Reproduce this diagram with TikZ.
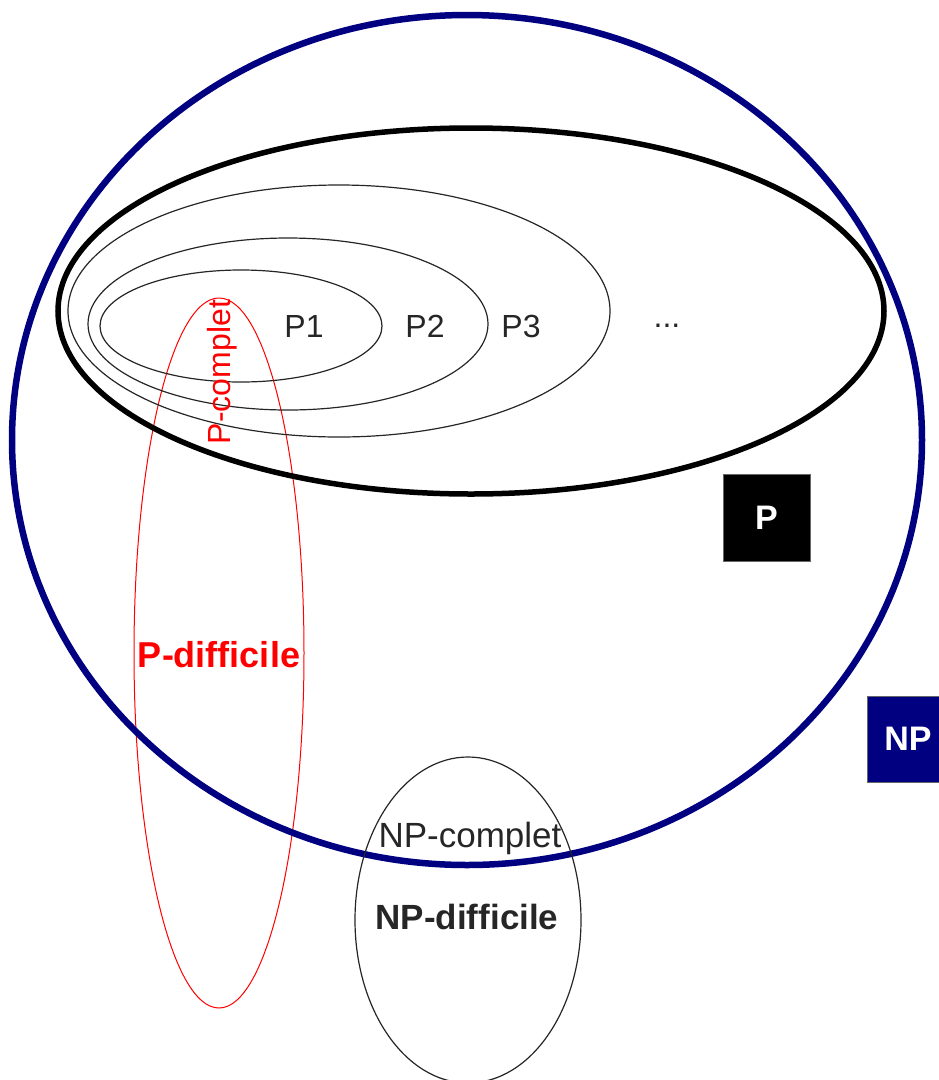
\documentclass[tikz,border=0pt]{standalone}
\usepackage{fontspec}
\setmainfont{Liberation Sans}
\usetikzlibrary{shapes.geometric}

\definecolor{npblue}{RGB}{0,0,128}

\begin{document}
\begin{tikzpicture}[
    x=1pt, y=-1pt,
    % Set styles
    blob/.style={ellipse, inner sep=0pt, outer sep=0pt},
    npset/.style={blob, draw=npblue, line width=6.5pt},
    pset/.style={blob, draw=black, line width=5.5pt},
    level/.style={blob, draw=black!85, line width=1.2pt},
    hardset/.style={blob, draw=red, line width=1pt},
    lbl/.style={font=\fontsize{32}{34}\selectfont, text=black!85, inner sep=0pt},
    bold/.style={lbl, font=\fontsize{35}{37}\selectfont\bfseries},
    tag/.style={rectangle, draw=black!60, line width=0.8pt, text=white,
        inner sep=0pt, font=\fontsize{34}{36}\selectfont\bfseries}
]
\useasboundingbox (0,0) rectangle (939,1080);

% ============================================================
% Sets
% ============================================================
\node[hardset, minimum width=170pt, minimum height=710pt] (phard) at (219,653) {};
\node[npset, minimum width=910pt, minimum height=850pt] (np) at (467,440) {};
\node[pset, minimum width=826pt, minimum height=366pt] (p) at (471,311) {};
\node[level, minimum width=542pt, minimum height=252pt] (p3) at (339,311) {};
\node[level, minimum width=400pt, minimum height=172pt] (p2) at (288,324) {};
\node[level, minimum width=282pt, minimum height=112pt] (p1) at (241,326) {};
\node[level, minimum width=226pt, minimum height=326pt] (nphard) at (468,920) {};

% ============================================================
% Labels
% ============================================================
\node[lbl] (lp1) at (304,326) {P1};
\node[lbl] (lp2) at (425,326) {P2};
\node[lbl] (lp3) at (521,326) {P3};
\node[lbl] (ldots) at (667,326) {...};

\node[lbl, text=red, rotate=90] (lpcomp) at (222,372) {P-complet};
\node[bold, text=red, font=\fontsize{36}{38}\selectfont\bfseries] (lphard) at (219,655) {P-difficile};

\node[lbl, font=\fontsize{35}{37}\selectfont] (lnpcomp) at (470,838) {NP-complet};
\node[bold] (lnphard) at (467,917) {NP-difficile};

% Tags
\node[tag, fill=black, minimum width=87pt, minimum height=87pt] (tp) at (766.5,517.5) {P};
\node[tag, fill=npblue, minimum width=82pt, minimum height=86pt] (tnp) at (908,739) {NP};

\end{tikzpicture}
\end{document}
